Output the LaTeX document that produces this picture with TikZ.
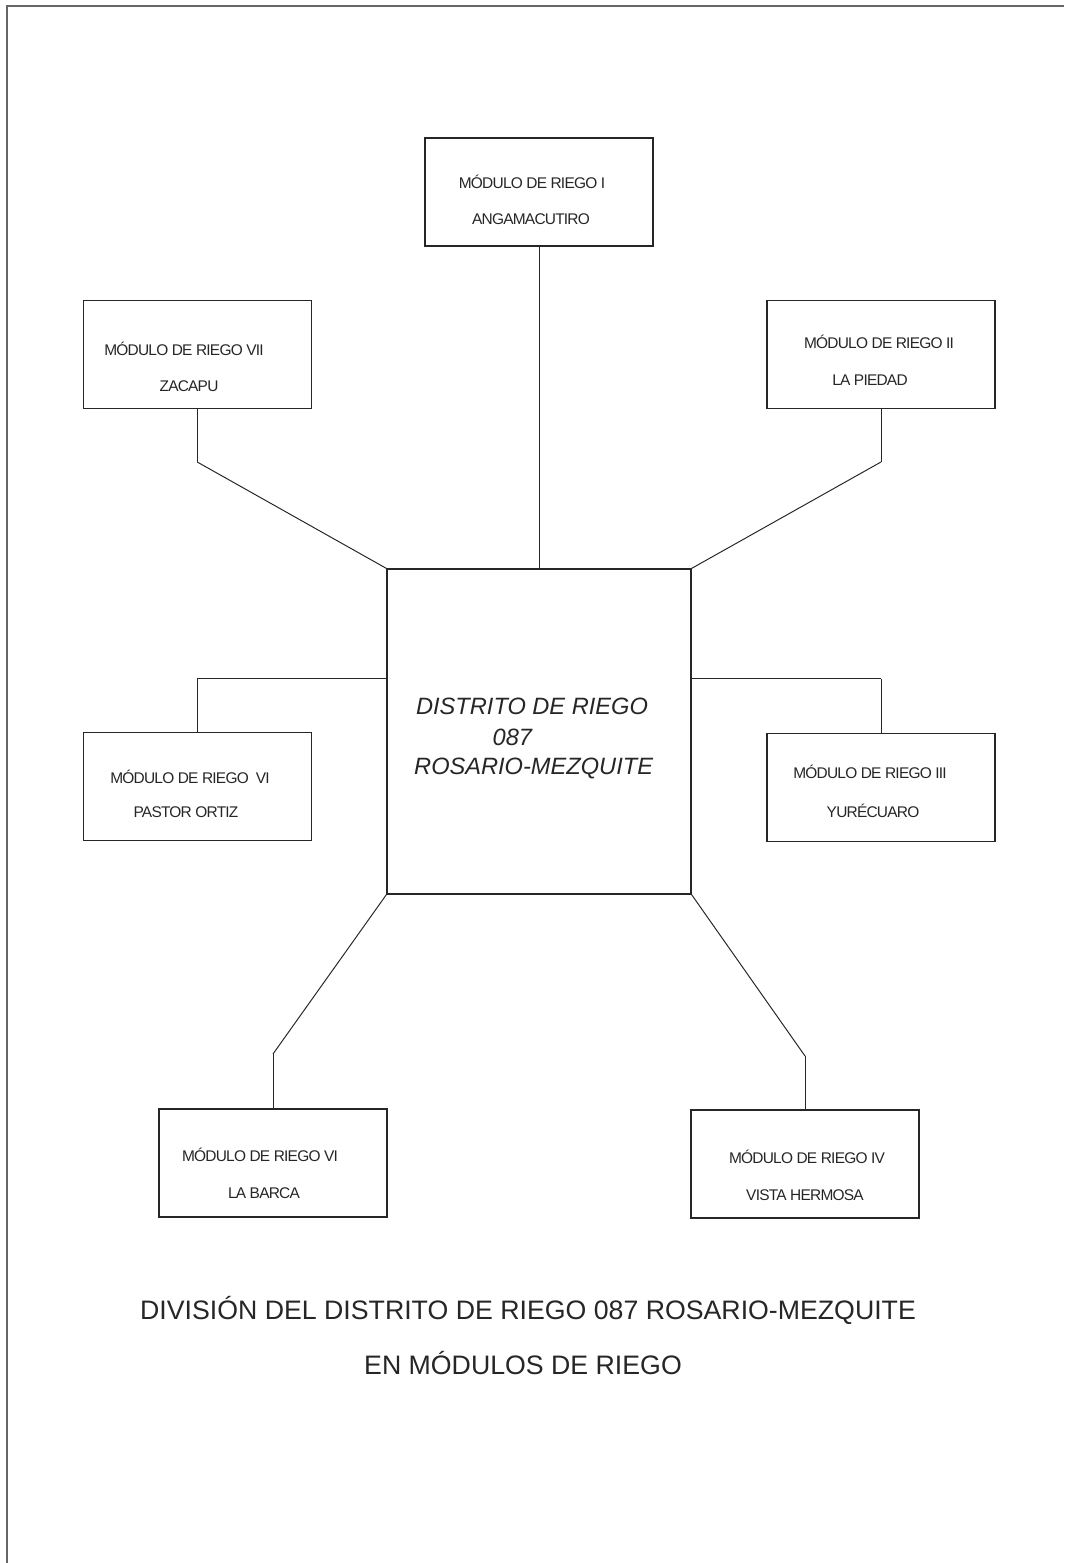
\documentclass[tikz,border=0pt]{standalone}
\usepackage{fontspec}
\setmainfont{Liberation Sans}
\usepackage{tikz}
\usetikzlibrary{backgrounds}
\tikzstyle{module}=[rectangle,draw=black!85,line width=0.75,minimum width=5.7cm,minimum height=2.7cm]
\tikzstyle{district}=[rectangle,draw=black!85,line width=0.75,minimum width=7.6cm,minimum height=8.125cm]
\tikzstyle{modtext}=[inner sep=0pt,text=black!85,font=\fontsize{11}{13}\selectfont\addfontfeatures{LetterSpace=-5},text height=7.9pt,text depth=0pt]
\tikzstyle{disttext}=[inner sep=0pt,text=black!85,font=\fontsize{16.8}{20}\selectfont\itshape,text height=12pt,text depth=0pt]
\tikzstyle{title}=[inner sep=0pt,text=black!85,font=\fontsize{19}{23}\selectfont,text height=13.6pt,text depth=0pt]
\tikzstyle{simple}=[-,draw=black!85,line width=0.7]
\tikzstyle{frame}=[-,draw=black!60,line width=1.2]
\tikzstyle{none}=[inner sep=0pt]
\pgfdeclarelayer{edgelayer}
\pgfdeclarelayer{nodelayer}
\pgfsetlayers{edgelayer,nodelayer,main}

\begin{document}
\begin{tikzpicture}
	\useasboundingbox (0,0) rectangle (26.6,39.075);
	\begin{pgfonlayer}{nodelayer}
		\node [style=district] (distrito) at (13.475, 20.7875) {};
		\node [style=disttext] (d1) at (13.3, 21.425) {DISTRITO DE RIEGO};
		\node [style=disttext] (d2) at (12.81, 20.65) {087};
		\node [style=disttext] (d3) at (13.34, 19.925) {ROSARIO-MEZQUITE};

		\node [style=module] (angama) at (13.475, 34.275) {};
		\node [style=modtext] at (13.3, 34.5) {MÓDULO DE RIEGO I};
		\node [style=modtext] at (13.275, 33.6) {ANGAMACUTIRO};

		\node [style=module] (zacapu) at (4.93, 30.21) {};
		\node [style=modtext] at (4.6, 30.325) {MÓDULO DE RIEGO VII};
		\node [style=modtext] at (4.725, 29.425) {ZACAPU};

		\node [style=module] (piedad) at (22.025, 30.21) {};
		\node [style=modtext] at (21.975, 30.5) {MÓDULO DE RIEGO II};
		\node [style=modtext] at (21.75, 29.575) {LA PIEDAD};

		\node [style=module] (pastor) at (4.93, 19.41) {};
		\node [style=modtext] at (4.75, 19.625) {MÓDULO DE RIEGO\ \ VI};
		\node [style=modtext] at (4.65, 18.775) {PASTOR ORTIZ};

		\node [style=module] (yurecuaro) at (22.025, 19.39) {};
		\node [style=modtext] at (21.75, 19.75) {MÓDULO DE RIEGO III};
		\node [style=modtext] at (21.825, 18.775) {YURÉCUARO};

		\node [style=module] (barca) at (6.825, 10.0) {};
		\node [style=modtext] at (6.5, 10.175) {MÓDULO DE RIEGO VI};
		\node [style=modtext] at (6.6, 9.25) {LA BARCA};

		\node [style=module] (vista) at (20.125, 9.975) {};
		\node [style=modtext] at (20.175, 10.125) {MÓDULO DE RIEGO IV};
		\node [style=modtext] at (20.125, 9.2) {VISTA HERMOSA};

		\node [style=title] (t1) at (13.2, 6.325) {DIVISIÓN DEL DISTRITO DE RIEGO 087 ROSARIO-MEZQUITE};
		\node [style=title] (t2) at (13.075, 4.95) {EN MÓDULOS DE RIEGO};

		\node [style=none] (zk) at (4.93, 27.525) {};
		\node [style=none] (pk) at (22.025, 27.525) {};
		\node [style=none] (sk) at (4.93, 22.1) {};
		\node [style=none] (yk) at (22.025, 22.1) {};
		\node [style=none] (bk) at (6.825, 12.725) {};
		\node [style=none] (vk) at (20.125, 12.675) {};
	\end{pgfonlayer}
	\begin{pgfonlayer}{edgelayer}
		\draw [style=frame] (0.175, 0) |- (26.6, 38.925);
		\draw [style=simple] (angama) to (distrito);
		\draw [style=simple] (zacapu) to (zk.center);
		\draw [style=simple] (zk.center) to (distrito.north west);
		\draw [style=simple] (piedad) to (pk.center);
		\draw [style=simple] (pk.center) to (distrito.north east);
		\draw [style=simple] (pastor) to (sk.center);
		\draw [style=simple] (sk.center) to (sk -| distrito.west);
		\draw [style=simple] (yurecuaro) to (yk.center);
		\draw [style=simple] (yk.center) to (yk -| distrito.east);
		\draw [style=simple] (barca) to (bk.center);
		\draw [style=simple] (bk.center) to (distrito.south west);
		\draw [style=simple] (vista) to (vk.center);
		\draw [style=simple] (vk.center) to (distrito.south east);
	\end{pgfonlayer}
\end{tikzpicture}
\end{document}
